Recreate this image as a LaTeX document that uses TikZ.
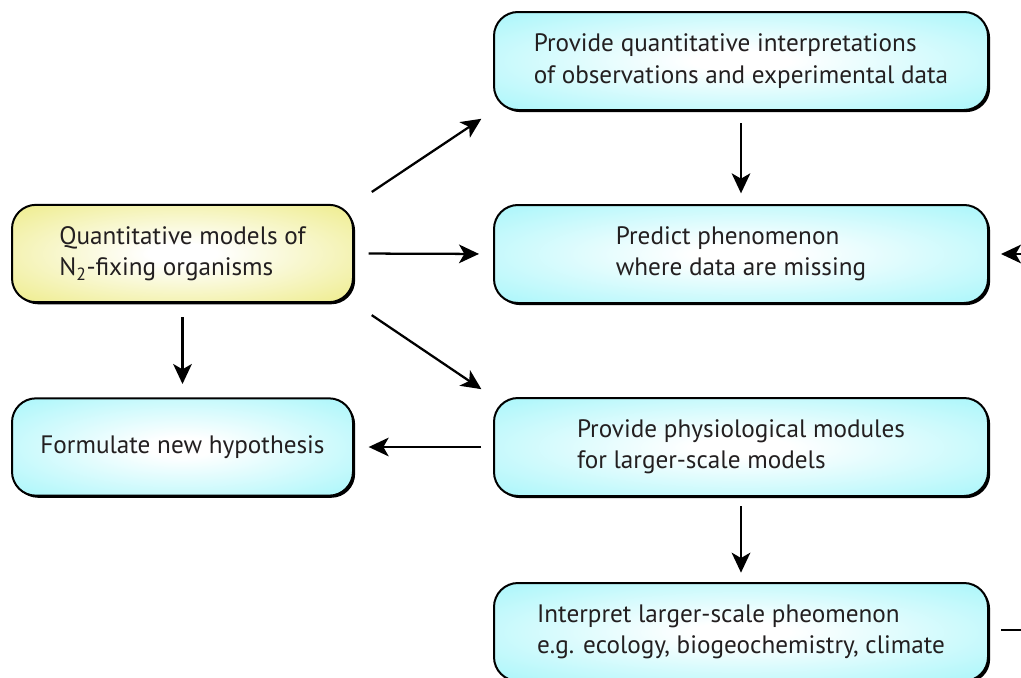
\documentclass[tikz,border=0pt]{standalone}
\usepackage{fontspec}
\setmainfont{PT Sans}
\usetikzlibrary{arrows.meta,shadows}
\definecolor{boxcyan}{RGB}{168,246,250}
\definecolor{boxyellow}{RGB}{238,236,138}
\definecolor{inktext}{RGB}{35,31,32}
\pgfdeclareradialshading{cyanglow}{\pgfpoint{0bp}{0bp}}{color(0bp)=(white);color(5bp)=(white);color(36bp)=(boxcyan);color(50bp)=(boxcyan)}
\pgfdeclareradialshading{yellowglow}{\pgfpoint{0bp}{0bp}}{color(0bp)=(white);color(5bp)=(white);color(36bp)=(boxyellow);color(50bp)=(boxyellow)}
\tikzset{
  panel/.style={draw=black, line width=1.5pt, rounded corners=18pt, shade, shading=cyanglow,
    align=left, text=inktext, font=\fontsize{18.9pt}{23.5pt}\selectfont,
    general shadow={fill=black, shadow xshift=1.6pt, shadow yshift=-1.6pt}},
  widepanel/.style={panel, minimum width=370.5pt, minimum height=73.5pt},
  narrowpanel/.style={panel, minimum width=255.75pt, minimum height=73pt},
  flow/.style={draw=black, line width=1.7pt, -{Stealth[length=15pt,width=14pt,inset=4pt]}},
  bare/.style={draw=black, line width=1.7pt}
}
\begin{document}
\begin{tikzpicture}[x=0.75pt,y=-0.75pt]
\useasboundingbox (0,0) rectangle (1021,678);
\clip (0,0) rectangle (1021,678);
\node[widepanel] (interp) at (741,61) {Provide quantitative interpretations\\of observations and experimental data};
\node[widepanel] (predict) at (741,254) {Predict phenomenon\\where data are missing};
\node[widepanel] (modules) at (741,447) {Provide physiological modules\\for larger-scale models};
\node[widepanel] (larger) at (741,632) {Interpret larger-scale pheomenon\\e.g. ecology, biogeochemistry, climate};
\node[narrowpanel, shading=yellowglow] (models) at (182.5,253.5) {Quantitative models of\\N\textsubscript{2}-fixing organisms};
\node[narrowpanel] (hypo) at (182.5,447) {Formulate new hypothesis};
\coordinate (rin) at (1025,254);
\coordinate (rout) at (1025,630);
\draw[flow, shorten <=16pt, shorten >=10.5pt] (models.north east) -- (interp.south west);
\draw[flow, shorten <=11pt, shorten >=10.5pt] (models.east) -- (predict.west);
\draw[flow, shorten <=16pt, shorten >=10.5pt] (models.south east) -- (modules.north west);
\draw[flow, shorten <=10.5pt, shorten >=10pt] (models.south) -- (hypo.north);
\draw[flow, shorten <=9pt, shorten >=11pt] (modules.west) -- (hypo.east);
\draw[flow, shorten <=9pt, shorten >=8pt] (interp.south) -- (predict.north);
\draw[flow, shorten <=7pt, shorten >=7pt] (modules.south) -- (larger.north);
\draw[flow, shorten >=9pt] (rin) -- (predict.east);
\draw[bare, shorten <=9pt] (larger.east |- rout) -- (rout);
\end{tikzpicture}
\end{document}
